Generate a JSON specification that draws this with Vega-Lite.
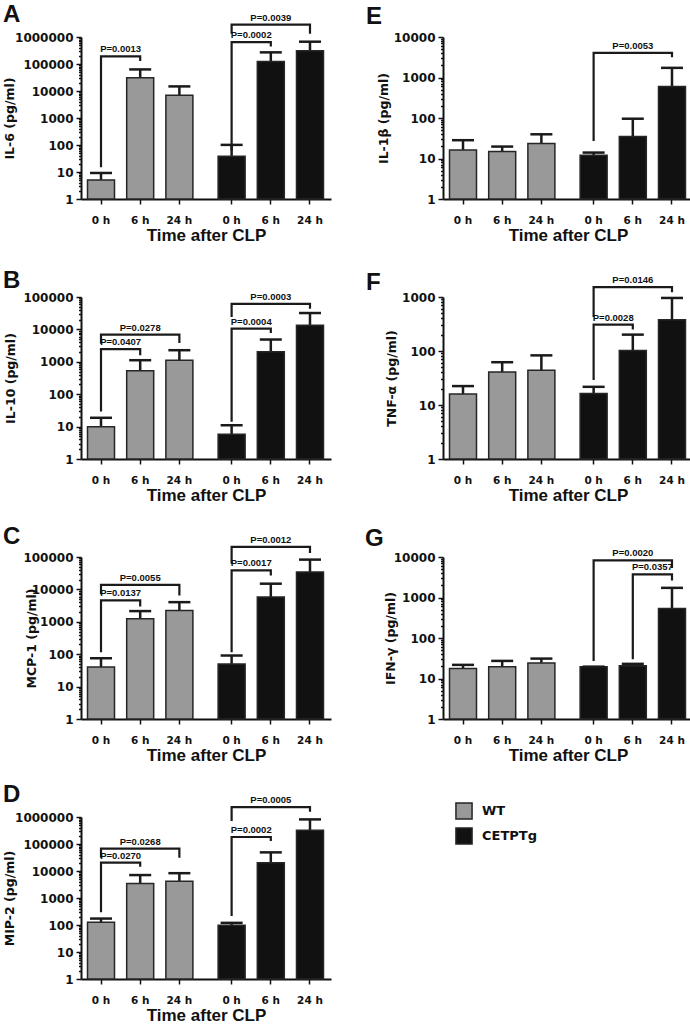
{
"$schema": "https://vega.github.io/schema/vega-lite/v6.json",
"padding": {"left": 3, "top": 2, "right": 0, "bottom": 0},
"datasets": {
"bars": [
{"panel":"A","genotype":"WT","time":"0 h","mean":5.1,"upper":9.2},
{"panel":"A","genotype":"WT","time":"6 h","mean":31000,"upper":63000},
{"panel":"A","genotype":"WT","time":"24 h","mean":7000,"upper":14800},
{"panel":"A","genotype":"CETPTg","time":"0 h","mean":38,"upper":101},
{"panel":"A","genotype":"CETPTg","time":"6 h","mean":125000,"upper":270000},
{"panel":"A","genotype":"CETPTg","time":"24 h","mean":310000,"upper":670000},
{"panel":"B","genotype":"WT","time":"0 h","mean":9.9,"upper":18.7},
{"panel":"B","genotype":"WT","time":"6 h","mean":525,"upper":1120},
{"panel":"B","genotype":"WT","time":"24 h","mean":1120,"upper":2280},
{"panel":"B","genotype":"CETPTg","time":"0 h","mean":5.8,"upper":11},
{"panel":"B","genotype":"CETPTg","time":"6 h","mean":2030,"upper":4870},
{"panel":"B","genotype":"CETPTg","time":"24 h","mean":13400,"upper":32000},
{"panel":"C","genotype":"WT","time":"0 h","mean":40,"upper":75},
{"panel":"C","genotype":"WT","time":"6 h","mean":1240,"upper":2140},
{"panel":"C","genotype":"WT","time":"24 h","mean":2240,"upper":4040},
{"panel":"C","genotype":"CETPTg","time":"0 h","mean":50,"upper":91},
{"panel":"C","genotype":"CETPTg","time":"6 h","mean":5800,"upper":15000},
{"panel":"C","genotype":"CETPTg","time":"24 h","mean":34500,"upper":83000},
{"panel":"D","genotype":"WT","time":"0 h","mean":127,"upper":173},
{"panel":"D","genotype":"WT","time":"6 h","mean":3450,"upper":7070},
{"panel":"D","genotype":"WT","time":"24 h","mean":4200,"upper":8300},
{"panel":"D","genotype":"CETPTg","time":"0 h","mean":98,"upper":120},
{"panel":"D","genotype":"CETPTg","time":"6 h","mean":20300,"upper":49000},
{"panel":"D","genotype":"CETPTg","time":"24 h","mean":320000,"upper":815000},
{"panel":"E","genotype":"WT","time":"0 h","mean":16.3,"upper":28.3},
{"panel":"E","genotype":"WT","time":"6 h","mean":14.9,"upper":19.7},
{"panel":"E","genotype":"WT","time":"24 h","mean":23.4,"upper":39.6},
{"panel":"E","genotype":"CETPTg","time":"0 h","mean":12.1,"upper":14},
{"panel":"E","genotype":"CETPTg","time":"6 h","mean":34.7,"upper":96},
{"panel":"E","genotype":"CETPTg","time":"24 h","mean":600,"upper":1730},
{"panel":"F","genotype":"WT","time":"0 h","mean":15.9,"upper":22.4},
{"panel":"F","genotype":"WT","time":"6 h","mean":41,"upper":62},
{"panel":"F","genotype":"WT","time":"24 h","mean":44,"upper":83},
{"panel":"F","genotype":"CETPTg","time":"0 h","mean":16.3,"upper":21.7},
{"panel":"F","genotype":"CETPTg","time":"6 h","mean":102,"upper":201},
{"panel":"F","genotype":"CETPTg","time":"24 h","mean":380,"upper":960},
{"panel":"G","genotype":"WT","time":"0 h","mean":17.6,"upper":21.7},
{"panel":"G","genotype":"WT","time":"6 h","mean":19.4,"upper":27.2},
{"panel":"G","genotype":"WT","time":"24 h","mean":24.3,"upper":31},
{"panel":"G","genotype":"CETPTg","time":"0 h","mean":19.4,"upper":19.6},
{"panel":"G","genotype":"CETPTg","time":"6 h","mean":20.5,"upper":23},
{"panel":"G","genotype":"CETPTg","time":"24 h","mean":537,"upper":1730}
],
"brk": [
{"panel":"A","id":"A1","slot":"WT|0 h","v":15,"k":1},{"panel":"A","id":"A1","slot":"WT|0 h","v":190000,"k":2},{"panel":"A","id":"A1","slot":"WT|6 h","v":190000,"k":3},{"panel":"A","id":"A1","slot":"WT|6 h","v":129000,"k":4},
{"panel":"A","id":"A2","slot":"CETPTg|0 h","v":62,"k":1},{"panel":"A","id":"A2","slot":"CETPTg|0 h","v":645000,"k":2},{"panel":"A","id":"A2","slot":"CETPTg|6 h","v":645000,"k":3},{"panel":"A","id":"A2","slot":"CETPTg|6 h","v":447000,"k":4},
{"panel":"A","id":"A3","slot":"CETPTg|0 h","v":1320000,"k":1},{"panel":"A","id":"A3","slot":"CETPTg|0 h","v":2880000,"k":2},{"panel":"A","id":"A3","slot":"CETPTg|24 h","v":2880000,"k":3},{"panel":"A","id":"A3","slot":"CETPTg|24 h","v":1320000,"k":4},
{"panel":"B","id":"B1","slot":"WT|0 h","v":29,"k":1},{"panel":"B","id":"B1","slot":"WT|0 h","v":2450,"k":2},{"panel":"B","id":"B1","slot":"WT|6 h","v":2450,"k":3},{"panel":"B","id":"B1","slot":"WT|6 h","v":1580,"k":4},
{"panel":"B","id":"B2","slot":"WT|0 h","v":3630,"k":1},{"panel":"B","id":"B2","slot":"WT|0 h","v":6900,"k":2},{"panel":"B","id":"B2","slot":"WT|24 h","v":6900,"k":3},{"panel":"B","id":"B2","slot":"WT|24 h","v":3800,"k":4},
{"panel":"B","id":"B3","slot":"CETPTg|0 h","v":14,"k":1},{"panel":"B","id":"B3","slot":"CETPTg|0 h","v":10500,"k":2},{"panel":"B","id":"B3","slot":"CETPTg|6 h","v":10500,"k":3},{"panel":"B","id":"B3","slot":"CETPTg|6 h","v":7760,"k":4},
{"panel":"B","id":"B4","slot":"CETPTg|0 h","v":24000,"k":1},{"panel":"B","id":"B4","slot":"CETPTg|0 h","v":61700,"k":2},{"panel":"B","id":"B4","slot":"CETPTg|24 h","v":61700,"k":3},{"panel":"B","id":"B4","slot":"CETPTg|24 h","v":43600,"k":4},
{"panel":"C","id":"C1","slot":"WT|0 h","v":115,"k":1},{"panel":"C","id":"C1","slot":"WT|0 h","v":4570,"k":2},{"panel":"C","id":"C1","slot":"WT|6 h","v":4570,"k":3},{"panel":"C","id":"C1","slot":"WT|6 h","v":2950,"k":4},
{"panel":"C","id":"C2","slot":"WT|0 h","v":7080,"k":1},{"panel":"C","id":"C2","slot":"WT|0 h","v":13800,"k":2},{"panel":"C","id":"C2","slot":"WT|24 h","v":13800,"k":3},{"panel":"C","id":"C2","slot":"WT|24 h","v":6460,"k":4},
{"panel":"C","id":"C3","slot":"CETPTg|0 h","v":115,"k":1},{"panel":"C","id":"C3","slot":"CETPTg|0 h","v":38900,"k":2},{"panel":"C","id":"C3","slot":"CETPTg|6 h","v":38900,"k":3},{"panel":"C","id":"C3","slot":"CETPTg|6 h","v":26900,"k":4},
{"panel":"C","id":"C4","slot":"CETPTg|0 h","v":61700,"k":1},{"panel":"C","id":"C4","slot":"CETPTg|0 h","v":204000,"k":2},{"panel":"C","id":"C4","slot":"CETPTg|24 h","v":204000,"k":3},{"panel":"C","id":"C4","slot":"CETPTg|24 h","v":132000,"k":4},
{"panel":"D","id":"D1","slot":"WT|0 h","v":295,"k":1},{"panel":"D","id":"D1","slot":"WT|0 h","v":20400,"k":2},{"panel":"D","id":"D1","slot":"WT|6 h","v":20400,"k":3},{"panel":"D","id":"D1","slot":"WT|6 h","v":14500,"k":4},
{"panel":"D","id":"D2","slot":"WT|0 h","v":30900,"k":1},{"panel":"D","id":"D2","slot":"WT|0 h","v":67600,"k":2},{"panel":"D","id":"D2","slot":"WT|24 h","v":67600,"k":3},{"panel":"D","id":"D2","slot":"WT|24 h","v":30900,"k":4},
{"panel":"D","id":"D3","slot":"CETPTg|0 h","v":214,"k":1},{"panel":"D","id":"D3","slot":"CETPTg|0 h","v":182000,"k":2},{"panel":"D","id":"D3","slot":"CETPTg|6 h","v":182000,"k":3},{"panel":"D","id":"D3","slot":"CETPTg|6 h","v":129000,"k":4},
{"panel":"D","id":"D4","slot":"CETPTg|0 h","v":708000,"k":1},{"panel":"D","id":"D4","slot":"CETPTg|0 h","v":2340000,"k":2},{"panel":"D","id":"D4","slot":"CETPTg|24 h","v":2340000,"k":3},{"panel":"D","id":"D4","slot":"CETPTg|24 h","v":1550000,"k":4},
{"panel":"E","id":"E1","slot":"CETPTg|0 h","v":27,"k":1},{"panel":"E","id":"E1","slot":"CETPTg|0 h","v":4070,"k":2},{"panel":"E","id":"E1","slot":"CETPTg|24 h","v":4070,"k":3},{"panel":"E","id":"E1","slot":"CETPTg|24 h","v":3160,"k":4},
{"panel":"F","id":"F1","slot":"CETPTg|0 h","v":29,"k":1},{"panel":"F","id":"F1","slot":"CETPTg|0 h","v":309,"k":2},{"panel":"F","id":"F1","slot":"CETPTg|6 h","v":309,"k":3},{"panel":"F","id":"F1","slot":"CETPTg|6 h","v":251,"k":4},
{"panel":"F","id":"F2","slot":"CETPTg|0 h","v":427,"k":1},{"panel":"F","id":"F2","slot":"CETPTg|0 h","v":1530,"k":2},{"panel":"F","id":"F2","slot":"CETPTg|24 h","v":1530,"k":3},{"panel":"F","id":"F2","slot":"CETPTg|24 h","v":1230,"k":4},
{"panel":"G","id":"G1","slot":"CETPTg|0 h","v":27,"k":1},{"panel":"G","id":"G1","slot":"CETPTg|0 h","v":8300,"k":2},{"panel":"G","id":"G1","slot":"CETPTg|24 h","v":8300,"k":3},{"panel":"G","id":"G1","slot":"CETPTg|24 h","v":5370,"k":4},
{"panel":"G","id":"G2","slot":"CETPTg|6 h","v":30,"k":1},{"panel":"G","id":"G2","slot":"CETPTg|6 h","v":3720,"k":2},{"panel":"G","id":"G2","slot":"CETPTg|24 h","v":3720,"k":3},{"panel":"G","id":"G2","slot":"CETPTg|24 h","v":2630,"k":4}
],
"lab": [
{"panel":"A","slot":"WT|0-6","v":190000,"label":"P=0.0013"},
{"panel":"A","slot":"CETPTg|0-6","v":645000,"label":"P=0.0002"},
{"panel":"A","slot":"CETPTg|6 h","v":2880000,"label":"P=0.0039"},
{"panel":"B","slot":"WT|0-6","v":2450,"label":"P=0.0407"},
{"panel":"B","slot":"WT|6 h","v":6900,"label":"P=0.0278"},
{"panel":"B","slot":"CETPTg|0-6","v":10500,"label":"P=0.0004"},
{"panel":"B","slot":"CETPTg|6 h","v":61700,"label":"P=0.0003"},
{"panel":"C","slot":"WT|0-6","v":4570,"label":"P=0.0137"},
{"panel":"C","slot":"WT|6 h","v":13800,"label":"P=0.0055"},
{"panel":"C","slot":"CETPTg|0-6","v":38900,"label":"P=0.0017"},
{"panel":"C","slot":"CETPTg|6 h","v":204000,"label":"P=0.0012"},
{"panel":"D","slot":"WT|0-6","v":20400,"label":"P=0.0270"},
{"panel":"D","slot":"WT|6 h","v":67600,"label":"P=0.0268"},
{"panel":"D","slot":"CETPTg|0-6","v":182000,"label":"P=0.0002"},
{"panel":"D","slot":"CETPTg|6 h","v":2340000,"label":"P=0.0005"},
{"panel":"E","slot":"CETPTg|6 h","v":4070,"label":"P=0.0053"},
{"panel":"F","slot":"CETPTg|0-6","v":309,"label":"P=0.0028"},
{"panel":"F","slot":"CETPTg|6 h","v":1530,"label":"P=0.0146"},
{"panel":"G","slot":"CETPTg|6 h","v":8300,"label":"P=0.0020"},
{"panel":"G","slot":"CETPTg|6-24","v":3720,"label":"P=0.0357"}
]
},
"columns": 2,
"bounds": "flush",
"spacing": {"row": 98, "column": 112},
"concat": [
{"title": {"text": "A", "dx": -78, "offset": -14}, "width": 250, "height": 162,
 "layer": [
  {"data": {"name": "bars"}, "transform": [{"filter": "datum.panel == 'A'"}, {"calculate": "datum.genotype + '|' + datum.time", "as": "slot"}],
   "mark": {"type": "rule", "color": "#1a1a1a", "strokeWidth": 2.5},
   "encoding": {
    "x": {"field": "slot", "type": "nominal", "scale": {"type": "band", "domain": ["L1","L2","WT|0 h","s1","s2","WT|0-6","s4","s5","WT|6 h","s7","s8","WT|6-24","s10","s11","WT|24 h","s13","s14","s15","s16","s17","s18","s19","CETPTg|0 h","s21","s22","CETPTg|0-6","s24","s25","CETPTg|6 h","s27","s28","CETPTg|6-24","s30","s31","CETPTg|24 h","R1","R2"], "paddingInner": 0, "paddingOuter": 0.64, "align": 0.44},
      "axis": {"values": ["WT|0 h","WT|6 h","WT|24 h","CETPTg|0 h","CETPTg|6 h","CETPTg|24 h"], "labelExpr": "split(datum.value, '|')[1]", "title": "Time after CLP"}},
    "y": {"field": "mean", "type": "quantitative", "scale": {"type": "log", "domain": [1, 1000000]},
      "axis": {"title": "IL-6 (pg/ml)", "titlePadding": -2, "values": [1,2,3,4,5,6,7,8,9,10,20,30,40,50,60,70,80,90,100,200,300,400,500,600,700,800,900,1000,2000,3000,4000,5000,6000,7000,8000,9000,10000,20000,30000,40000,50000,60000,70000,80000,90000,100000,200000,300000,400000,500000,600000,700000,800000,900000,1000000],
       "labelExpr": "abs(log(datum.value)/LN10 - round(log(datum.value)/LN10)) < 0.001 ? format(datum.value, 'd') : ''",
       "tickSize": {"condition": {"test": "abs(log(datum.value)/LN10 - round(log(datum.value)/LN10)) < 0.001", "value": 5}, "value": 2.5}}},
    "y2": {"field": "upper"}}},
  {"data": {"name": "bars"}, "transform": [{"filter": "datum.panel == 'A'"}, {"calculate": "datum.genotype + '|' + datum.time", "as": "slot"}],
   "mark": {"type": "bar", "width": 27, "stroke": "#262626", "strokeWidth": 1.5},
   "encoding": {"x": {"field": "slot", "type": "nominal"}, "y": {"field": "mean", "type": "quantitative"}, "y2": {"datum": 1},
    "fill": {"field": "genotype", "type": "nominal", "scale": {"domain": ["WT", "CETPTg"], "range": ["#999999", "#111111"]}, "legend": {"title": null}}}},
  {"data": {"name": "bars"}, "transform": [{"filter": "datum.panel == 'A'"}, {"calculate": "datum.genotype + '|' + datum.time", "as": "slot"}],
   "mark": {"type": "tick", "size": 22, "thickness": 2.5, "color": "#1a1a1a", "opacity": 1},
   "encoding": {"x": {"field": "slot", "type": "nominal"}, "y": {"field": "upper", "type": "quantitative"}}},
  {"data": {"name": "brk"}, "transform": [{"filter": "datum.panel == 'A'"}],
   "mark": {"type": "line", "color": "#1a1a1a", "strokeWidth": 2.2, "strokeJoin": "miter"},
   "encoding": {"x": {"field": "slot", "type": "nominal"}, "y": {"field": "v", "type": "quantitative"}, "detail": {"field": "id"}, "order": {"field": "k", "type": "quantitative"}}},
  {"data": {"name": "lab"}, "transform": [{"filter": "datum.panel == 'A'"}],
   "mark": {"type": "text", "font": "Liberation Sans", "fontSize": 9.5, "fontWeight": "bold", "baseline": "bottom", "dy": -2, "color": "#111"},
   "encoding": {"x": {"field": "slot", "type": "nominal"}, "y": {"field": "v", "type": "quantitative"}, "text": {"field": "label"}}}
 ]},
{"title": {"text": "E", "dx": -77, "offset": 2}, "width": 250, "height": 162,
 "layer": [
  {"data": {"name": "bars"}, "transform": [{"filter": "datum.panel == 'E'"}, {"calculate": "datum.genotype + '|' + datum.time", "as": "slot"}],
   "mark": {"type": "rule", "color": "#1a1a1a", "strokeWidth": 2.5},
   "encoding": {
    "x": {"field": "slot", "type": "nominal", "scale": {"type": "band", "domain": ["L1","L2","WT|0 h","s1","s2","WT|0-6","s4","s5","WT|6 h","s7","s8","WT|6-24","s10","s11","WT|24 h","s13","s14","s15","s16","s17","s18","s19","CETPTg|0 h","s21","s22","CETPTg|0-6","s24","s25","CETPTg|6 h","s27","s28","CETPTg|6-24","s30","s31","CETPTg|24 h","R1","R2"], "paddingInner": 0, "paddingOuter": 0.64, "align": 0.44},
      "axis": {"values": ["WT|0 h","WT|6 h","WT|24 h","CETPTg|0 h","CETPTg|6 h","CETPTg|24 h"], "labelExpr": "split(datum.value, '|')[1]", "title": "Time after CLP"}},
    "y": {"field": "mean", "type": "quantitative", "scale": {"type": "log", "domain": [1, 10000]},
      "axis": {"title": "IL-1β (pg/ml)", "titlePadding": 3, "values": [1,2,3,4,5,6,7,8,9,10,20,30,40,50,60,70,80,90,100,200,300,400,500,600,700,800,900,1000,2000,3000,4000,5000,6000,7000,8000,9000,10000],
       "labelExpr": "abs(log(datum.value)/LN10 - round(log(datum.value)/LN10)) < 0.001 ? format(datum.value, 'd') : ''",
       "tickSize": {"condition": {"test": "abs(log(datum.value)/LN10 - round(log(datum.value)/LN10)) < 0.001", "value": 5}, "value": 2.5}}},
    "y2": {"field": "upper"}}},
  {"data": {"name": "bars"}, "transform": [{"filter": "datum.panel == 'E'"}, {"calculate": "datum.genotype + '|' + datum.time", "as": "slot"}],
   "mark": {"type": "bar", "width": 27, "stroke": "#262626", "strokeWidth": 1.5},
   "encoding": {"x": {"field": "slot", "type": "nominal"}, "y": {"field": "mean", "type": "quantitative"}, "y2": {"datum": 1},
    "fill": {"field": "genotype", "type": "nominal", "scale": {"domain": ["WT", "CETPTg"], "range": ["#999999", "#111111"]}, "legend": {"title": null}}}},
  {"data": {"name": "bars"}, "transform": [{"filter": "datum.panel == 'E'"}, {"calculate": "datum.genotype + '|' + datum.time", "as": "slot"}],
   "mark": {"type": "tick", "size": 22, "thickness": 2.5, "color": "#1a1a1a", "opacity": 1},
   "encoding": {"x": {"field": "slot", "type": "nominal"}, "y": {"field": "upper", "type": "quantitative"}}},
  {"data": {"name": "brk"}, "transform": [{"filter": "datum.panel == 'E'"}],
   "mark": {"type": "line", "color": "#1a1a1a", "strokeWidth": 2.2, "strokeJoin": "miter"},
   "encoding": {"x": {"field": "slot", "type": "nominal"}, "y": {"field": "v", "type": "quantitative"}, "detail": {"field": "id"}, "order": {"field": "k", "type": "quantitative"}}},
  {"data": {"name": "lab"}, "transform": [{"filter": "datum.panel == 'E'"}],
   "mark": {"type": "text", "font": "Liberation Sans", "fontSize": 9.5, "fontWeight": "bold", "baseline": "bottom", "dy": -2, "color": "#111"},
   "encoding": {"x": {"field": "slot", "type": "nominal"}, "y": {"field": "v", "type": "quantitative"}, "text": {"field": "label"}}}
 ]},
{"title": {"text": "B", "dx": -78, "offset": -2}, "width": 250, "height": 162,
 "layer": [
  {"data": {"name": "bars"}, "transform": [{"filter": "datum.panel == 'B'"}, {"calculate": "datum.genotype + '|' + datum.time", "as": "slot"}],
   "mark": {"type": "rule", "color": "#1a1a1a", "strokeWidth": 2.5},
   "encoding": {
    "x": {"field": "slot", "type": "nominal", "scale": {"type": "band", "domain": ["L1","L2","WT|0 h","s1","s2","WT|0-6","s4","s5","WT|6 h","s7","s8","WT|6-24","s10","s11","WT|24 h","s13","s14","s15","s16","s17","s18","s19","CETPTg|0 h","s21","s22","CETPTg|0-6","s24","s25","CETPTg|6 h","s27","s28","CETPTg|6-24","s30","s31","CETPTg|24 h","R1","R2"], "paddingInner": 0, "paddingOuter": 0.64, "align": 0.44},
      "axis": {"values": ["WT|0 h","WT|6 h","WT|24 h","CETPTg|0 h","CETPTg|6 h","CETPTg|24 h"], "labelExpr": "split(datum.value, '|')[1]", "title": "Time after CLP"}},
    "y": {"field": "mean", "type": "quantitative", "scale": {"type": "log", "domain": [1, 100000]},
      "axis": {"title": "IL-10 (pg/ml)", "titlePadding": 5, "values": [1,2,3,4,5,6,7,8,9,10,20,30,40,50,60,70,80,90,100,200,300,400,500,600,700,800,900,1000,2000,3000,4000,5000,6000,7000,8000,9000,10000,20000,30000,40000,50000,60000,70000,80000,90000,100000],
       "labelExpr": "abs(log(datum.value)/LN10 - round(log(datum.value)/LN10)) < 0.001 ? format(datum.value, 'd') : ''",
       "tickSize": {"condition": {"test": "abs(log(datum.value)/LN10 - round(log(datum.value)/LN10)) < 0.001", "value": 5}, "value": 2.5}}},
    "y2": {"field": "upper"}}},
  {"data": {"name": "bars"}, "transform": [{"filter": "datum.panel == 'B'"}, {"calculate": "datum.genotype + '|' + datum.time", "as": "slot"}],
   "mark": {"type": "bar", "width": 27, "stroke": "#262626", "strokeWidth": 1.5},
   "encoding": {"x": {"field": "slot", "type": "nominal"}, "y": {"field": "mean", "type": "quantitative"}, "y2": {"datum": 1},
    "fill": {"field": "genotype", "type": "nominal", "scale": {"domain": ["WT", "CETPTg"], "range": ["#999999", "#111111"]}, "legend": {"title": null}}}},
  {"data": {"name": "bars"}, "transform": [{"filter": "datum.panel == 'B'"}, {"calculate": "datum.genotype + '|' + datum.time", "as": "slot"}],
   "mark": {"type": "tick", "size": 22, "thickness": 2.5, "color": "#1a1a1a", "opacity": 1},
   "encoding": {"x": {"field": "slot", "type": "nominal"}, "y": {"field": "upper", "type": "quantitative"}}},
  {"data": {"name": "brk"}, "transform": [{"filter": "datum.panel == 'B'"}],
   "mark": {"type": "line", "color": "#1a1a1a", "strokeWidth": 2.2, "strokeJoin": "miter"},
   "encoding": {"x": {"field": "slot", "type": "nominal"}, "y": {"field": "v", "type": "quantitative"}, "detail": {"field": "id"}, "order": {"field": "k", "type": "quantitative"}}},
  {"data": {"name": "lab"}, "transform": [{"filter": "datum.panel == 'B'"}],
   "mark": {"type": "text", "font": "Liberation Sans", "fontSize": 9.5, "fontWeight": "bold", "baseline": "bottom", "dy": -2, "color": "#111"},
   "encoding": {"x": {"field": "slot", "type": "nominal"}, "y": {"field": "v", "type": "quantitative"}, "text": {"field": "label"}}}
 ]},
{"title": {"text": "F", "dx": -77, "offset": -20}, "width": 250, "height": 162,
 "layer": [
  {"data": {"name": "bars"}, "transform": [{"filter": "datum.panel == 'F'"}, {"calculate": "datum.genotype + '|' + datum.time", "as": "slot"}],
   "mark": {"type": "rule", "color": "#1a1a1a", "strokeWidth": 2.5},
   "encoding": {
    "x": {"field": "slot", "type": "nominal", "scale": {"type": "band", "domain": ["L1","L2","WT|0 h","s1","s2","WT|0-6","s4","s5","WT|6 h","s7","s8","WT|6-24","s10","s11","WT|24 h","s13","s14","s15","s16","s17","s18","s19","CETPTg|0 h","s21","s22","CETPTg|0-6","s24","s25","CETPTg|6 h","s27","s28","CETPTg|6-24","s30","s31","CETPTg|24 h","R1","R2"], "paddingInner": 0, "paddingOuter": 0.64, "align": 0.44},
      "axis": {"values": ["WT|0 h","WT|6 h","WT|24 h","CETPTg|0 h","CETPTg|6 h","CETPTg|24 h"], "labelExpr": "split(datum.value, '|')[1]", "title": "Time after CLP"}},
    "y": {"field": "mean", "type": "quantitative", "scale": {"type": "log", "domain": [1, 1000]},
      "axis": {"title": "TNF-α (pg/ml)", "titlePadding": 3.5, "values": [1,2,3,4,5,6,7,8,9,10,20,30,40,50,60,70,80,90,100,200,300,400,500,600,700,800,900,1000],
       "labelExpr": "abs(log(datum.value)/LN10 - round(log(datum.value)/LN10)) < 0.001 ? format(datum.value, 'd') : ''",
       "tickSize": {"condition": {"test": "abs(log(datum.value)/LN10 - round(log(datum.value)/LN10)) < 0.001", "value": 5}, "value": 2.5}}},
    "y2": {"field": "upper"}}},
  {"data": {"name": "bars"}, "transform": [{"filter": "datum.panel == 'F'"}, {"calculate": "datum.genotype + '|' + datum.time", "as": "slot"}],
   "mark": {"type": "bar", "width": 27, "stroke": "#262626", "strokeWidth": 1.5},
   "encoding": {"x": {"field": "slot", "type": "nominal"}, "y": {"field": "mean", "type": "quantitative"}, "y2": {"datum": 1},
    "fill": {"field": "genotype", "type": "nominal", "scale": {"domain": ["WT", "CETPTg"], "range": ["#999999", "#111111"]}, "legend": {"title": null}}}},
  {"data": {"name": "bars"}, "transform": [{"filter": "datum.panel == 'F'"}, {"calculate": "datum.genotype + '|' + datum.time", "as": "slot"}],
   "mark": {"type": "tick", "size": 22, "thickness": 2.5, "color": "#1a1a1a", "opacity": 1},
   "encoding": {"x": {"field": "slot", "type": "nominal"}, "y": {"field": "upper", "type": "quantitative"}}},
  {"data": {"name": "brk"}, "transform": [{"filter": "datum.panel == 'F'"}],
   "mark": {"type": "line", "color": "#1a1a1a", "strokeWidth": 2.2, "strokeJoin": "miter"},
   "encoding": {"x": {"field": "slot", "type": "nominal"}, "y": {"field": "v", "type": "quantitative"}, "detail": {"field": "id"}, "order": {"field": "k", "type": "quantitative"}}},
  {"data": {"name": "lab"}, "transform": [{"filter": "datum.panel == 'F'"}],
   "mark": {"type": "text", "font": "Liberation Sans", "fontSize": 9.5, "fontWeight": "bold", "baseline": "bottom", "dy": -2, "color": "#111"},
   "encoding": {"x": {"field": "slot", "type": "nominal"}, "y": {"field": "v", "type": "quantitative"}, "text": {"field": "label"}}}
 ]},
{"title": {"text": "C", "dx": -78, "offset": -14}, "width": 250, "height": 162,
 "layer": [
  {"data": {"name": "bars"}, "transform": [{"filter": "datum.panel == 'C'"}, {"calculate": "datum.genotype + '|' + datum.time", "as": "slot"}],
   "mark": {"type": "rule", "color": "#1a1a1a", "strokeWidth": 2.5},
   "encoding": {
    "x": {"field": "slot", "type": "nominal", "scale": {"type": "band", "domain": ["L1","L2","WT|0 h","s1","s2","WT|0-6","s4","s5","WT|6 h","s7","s8","WT|6-24","s10","s11","WT|24 h","s13","s14","s15","s16","s17","s18","s19","CETPTg|0 h","s21","s22","CETPTg|0-6","s24","s25","CETPTg|6 h","s27","s28","CETPTg|6-24","s30","s31","CETPTg|24 h","R1","R2"], "paddingInner": 0, "paddingOuter": 0.64, "align": 0.44},
      "axis": {"values": ["WT|0 h","WT|6 h","WT|24 h","CETPTg|0 h","CETPTg|6 h","CETPTg|24 h"], "labelExpr": "split(datum.value, '|')[1]", "title": "Time after CLP"}},
    "y": {"field": "mean", "type": "quantitative", "scale": {"type": "log", "domain": [1, 100000]},
      "axis": {"title": "MCP-1 (pg/ml)", "titlePadding": -16, "values": [1,2,3,4,5,6,7,8,9,10,20,30,40,50,60,70,80,90,100,200,300,400,500,600,700,800,900,1000,2000,3000,4000,5000,6000,7000,8000,9000,10000,20000,30000,40000,50000,60000,70000,80000,90000,100000],
       "labelExpr": "abs(log(datum.value)/LN10 - round(log(datum.value)/LN10)) < 0.001 ? format(datum.value, 'd') : ''",
       "tickSize": {"condition": {"test": "abs(log(datum.value)/LN10 - round(log(datum.value)/LN10)) < 0.001", "value": 5}, "value": 2.5}}},
    "y2": {"field": "upper"}}},
  {"data": {"name": "bars"}, "transform": [{"filter": "datum.panel == 'C'"}, {"calculate": "datum.genotype + '|' + datum.time", "as": "slot"}],
   "mark": {"type": "bar", "width": 27, "stroke": "#262626", "strokeWidth": 1.5},
   "encoding": {"x": {"field": "slot", "type": "nominal"}, "y": {"field": "mean", "type": "quantitative"}, "y2": {"datum": 1},
    "fill": {"field": "genotype", "type": "nominal", "scale": {"domain": ["WT", "CETPTg"], "range": ["#999999", "#111111"]}, "legend": {"title": null}}}},
  {"data": {"name": "bars"}, "transform": [{"filter": "datum.panel == 'C'"}, {"calculate": "datum.genotype + '|' + datum.time", "as": "slot"}],
   "mark": {"type": "tick", "size": 22, "thickness": 2.5, "color": "#1a1a1a", "opacity": 1},
   "encoding": {"x": {"field": "slot", "type": "nominal"}, "y": {"field": "upper", "type": "quantitative"}}},
  {"data": {"name": "brk"}, "transform": [{"filter": "datum.panel == 'C'"}],
   "mark": {"type": "line", "color": "#1a1a1a", "strokeWidth": 2.2, "strokeJoin": "miter"},
   "encoding": {"x": {"field": "slot", "type": "nominal"}, "y": {"field": "v", "type": "quantitative"}, "detail": {"field": "id"}, "order": {"field": "k", "type": "quantitative"}}},
  {"data": {"name": "lab"}, "transform": [{"filter": "datum.panel == 'C'"}],
   "mark": {"type": "text", "font": "Liberation Sans", "fontSize": 9.5, "fontWeight": "bold", "baseline": "bottom", "dy": -2, "color": "#111"},
   "encoding": {"x": {"field": "slot", "type": "nominal"}, "y": {"field": "v", "type": "quantitative"}, "text": {"field": "label"}}}
 ]},
{"title": {"text": "G", "dx": -78, "offset": -3}, "width": 250, "height": 162,
 "layer": [
  {"data": {"name": "bars"}, "transform": [{"filter": "datum.panel == 'G'"}, {"calculate": "datum.genotype + '|' + datum.time", "as": "slot"}],
   "mark": {"type": "rule", "color": "#1a1a1a", "strokeWidth": 2.5},
   "encoding": {
    "x": {"field": "slot", "type": "nominal", "scale": {"type": "band", "domain": ["L1","L2","WT|0 h","s1","s2","WT|0-6","s4","s5","WT|6 h","s7","s8","WT|6-24","s10","s11","WT|24 h","s13","s14","s15","s16","s17","s18","s19","CETPTg|0 h","s21","s22","CETPTg|0-6","s24","s25","CETPTg|6 h","s27","s28","CETPTg|6-24","s30","s31","CETPTg|24 h","R1","R2"], "paddingInner": 0, "paddingOuter": 0.64, "align": 0.44},
      "axis": {"values": ["WT|0 h","WT|6 h","WT|24 h","CETPTg|0 h","CETPTg|6 h","CETPTg|24 h"], "labelExpr": "split(datum.value, '|')[1]", "title": "Time after CLP"}},
    "y": {"field": "mean", "type": "quantitative", "scale": {"type": "log", "domain": [1, 10000]},
      "axis": {"title": "IFN-γ (pg/ml)", "titlePadding": -4, "values": [1,2,3,4,5,6,7,8,9,10,20,30,40,50,60,70,80,90,100,200,300,400,500,600,700,800,900,1000,2000,3000,4000,5000,6000,7000,8000,9000,10000],
       "labelExpr": "abs(log(datum.value)/LN10 - round(log(datum.value)/LN10)) < 0.001 ? format(datum.value, 'd') : ''",
       "tickSize": {"condition": {"test": "abs(log(datum.value)/LN10 - round(log(datum.value)/LN10)) < 0.001", "value": 5}, "value": 2.5}}},
    "y2": {"field": "upper"}}},
  {"data": {"name": "bars"}, "transform": [{"filter": "datum.panel == 'G'"}, {"calculate": "datum.genotype + '|' + datum.time", "as": "slot"}],
   "mark": {"type": "bar", "width": 27, "stroke": "#262626", "strokeWidth": 1.5},
   "encoding": {"x": {"field": "slot", "type": "nominal"}, "y": {"field": "mean", "type": "quantitative"}, "y2": {"datum": 1},
    "fill": {"field": "genotype", "type": "nominal", "scale": {"domain": ["WT", "CETPTg"], "range": ["#999999", "#111111"]}, "legend": {"title": null}}}},
  {"data": {"name": "bars"}, "transform": [{"filter": "datum.panel == 'G'"}, {"calculate": "datum.genotype + '|' + datum.time", "as": "slot"}],
   "mark": {"type": "tick", "size": 22, "thickness": 2.5, "color": "#1a1a1a", "opacity": 1},
   "encoding": {"x": {"field": "slot", "type": "nominal"}, "y": {"field": "upper", "type": "quantitative"}}},
  {"data": {"name": "brk"}, "transform": [{"filter": "datum.panel == 'G'"}],
   "mark": {"type": "line", "color": "#1a1a1a", "strokeWidth": 2.2, "strokeJoin": "miter"},
   "encoding": {"x": {"field": "slot", "type": "nominal"}, "y": {"field": "v", "type": "quantitative"}, "detail": {"field": "id"}, "order": {"field": "k", "type": "quantitative"}}},
  {"data": {"name": "lab"}, "transform": [{"filter": "datum.panel == 'G'"}],
   "mark": {"type": "text", "font": "Liberation Sans", "fontSize": 9.5, "fontWeight": "bold", "baseline": "bottom", "dy": -2, "color": "#111"},
   "encoding": {"x": {"field": "slot", "type": "nominal"}, "y": {"field": "v", "type": "quantitative"}, "text": {"field": "label"}}}
 ]},
{"title": {"text": "D", "dx": -78, "offset": -12}, "width": 250, "height": 162,
 "layer": [
  {"data": {"name": "bars"}, "transform": [{"filter": "datum.panel == 'D'"}, {"calculate": "datum.genotype + '|' + datum.time", "as": "slot"}],
   "mark": {"type": "rule", "color": "#1a1a1a", "strokeWidth": 2.5},
   "encoding": {
    "x": {"field": "slot", "type": "nominal", "scale": {"type": "band", "domain": ["L1","L2","WT|0 h","s1","s2","WT|0-6","s4","s5","WT|6 h","s7","s8","WT|6-24","s10","s11","WT|24 h","s13","s14","s15","s16","s17","s18","s19","CETPTg|0 h","s21","s22","CETPTg|0-6","s24","s25","CETPTg|6 h","s27","s28","CETPTg|6-24","s30","s31","CETPTg|24 h","R1","R2"], "paddingInner": 0, "paddingOuter": 0.64, "align": 0.44},
      "axis": {"values": ["WT|0 h","WT|6 h","WT|24 h","CETPTg|0 h","CETPTg|6 h","CETPTg|24 h"], "labelExpr": "split(datum.value, '|')[1]", "title": "Time after CLP"}},
    "y": {"field": "mean", "type": "quantitative", "scale": {"type": "log", "domain": [1, 1000000]},
      "axis": {"title": "MIP-2 (pg/ml)", "titlePadding": -2, "values": [1,2,3,4,5,6,7,8,9,10,20,30,40,50,60,70,80,90,100,200,300,400,500,600,700,800,900,1000,2000,3000,4000,5000,6000,7000,8000,9000,10000,20000,30000,40000,50000,60000,70000,80000,90000,100000,200000,300000,400000,500000,600000,700000,800000,900000,1000000],
       "labelExpr": "abs(log(datum.value)/LN10 - round(log(datum.value)/LN10)) < 0.001 ? format(datum.value, 'd') : ''",
       "tickSize": {"condition": {"test": "abs(log(datum.value)/LN10 - round(log(datum.value)/LN10)) < 0.001", "value": 5}, "value": 2.5}}},
    "y2": {"field": "upper"}}},
  {"data": {"name": "bars"}, "transform": [{"filter": "datum.panel == 'D'"}, {"calculate": "datum.genotype + '|' + datum.time", "as": "slot"}],
   "mark": {"type": "bar", "width": 27, "stroke": "#262626", "strokeWidth": 1.5},
   "encoding": {"x": {"field": "slot", "type": "nominal"}, "y": {"field": "mean", "type": "quantitative"}, "y2": {"datum": 1},
    "fill": {"field": "genotype", "type": "nominal", "scale": {"domain": ["WT", "CETPTg"], "range": ["#999999", "#111111"]}, "legend": {"title": null}}}},
  {"data": {"name": "bars"}, "transform": [{"filter": "datum.panel == 'D'"}, {"calculate": "datum.genotype + '|' + datum.time", "as": "slot"}],
   "mark": {"type": "tick", "size": 22, "thickness": 2.5, "color": "#1a1a1a", "opacity": 1},
   "encoding": {"x": {"field": "slot", "type": "nominal"}, "y": {"field": "upper", "type": "quantitative"}}},
  {"data": {"name": "brk"}, "transform": [{"filter": "datum.panel == 'D'"}],
   "mark": {"type": "line", "color": "#1a1a1a", "strokeWidth": 2.2, "strokeJoin": "miter"},
   "encoding": {"x": {"field": "slot", "type": "nominal"}, "y": {"field": "v", "type": "quantitative"}, "detail": {"field": "id"}, "order": {"field": "k", "type": "quantitative"}}},
  {"data": {"name": "lab"}, "transform": [{"filter": "datum.panel == 'D'"}],
   "mark": {"type": "text", "font": "Liberation Sans", "fontSize": 9.5, "fontWeight": "bold", "baseline": "bottom", "dy": -2, "color": "#111"},
   "encoding": {"x": {"field": "slot", "type": "nominal"}, "y": {"field": "v", "type": "quantitative"}, "text": {"field": "label"}}}
 ]}
],
"config": {
 "view": {"stroke": null},
 "font": "Liberation Sans",
 "axis": {"domainColor": "#111", "domainWidth": 2, "tickColor": "#111", "tickWidth": 1.5, "labelColor": "#111", "labelFont": "DejaVu Sans", "labelFontWeight": "bold", "labelFontSize": 12, "titleColor": "#111", "titleFontWeight": "bold", "grid": false, "labelOverlap": false, "labelFlush": false, "labelPadding": 3},
 "axisX": {"labelAngle": 0, "tickSize": 5, "labelPadding": 11, "titleFont": "Liberation Sans", "titleFontSize": 17, "titlePadding": 2, "labelFontSize": 10.5},
 "axisY": {"titleFont": "DejaVu Sans", "titleFontSize": 12.5},
 "title": {"font": "Liberation Sans", "fontSize": 24, "fontWeight": "bold", "anchor": "start", "frame": "group", "color": "#111"},
 "legend": {"orient": "none", "legendX": 374, "legendY": 765, "symbolType": "square", "symbolSize": 260, "symbolStrokeColor": "#262626", "symbolStrokeWidth": 1.5, "labelFont": "DejaVu Sans", "labelFontSize": 13, "labelFontWeight": "bold", "labelColor": "#111", "rowPadding": 1, "labelOffset": 9}
}
}
